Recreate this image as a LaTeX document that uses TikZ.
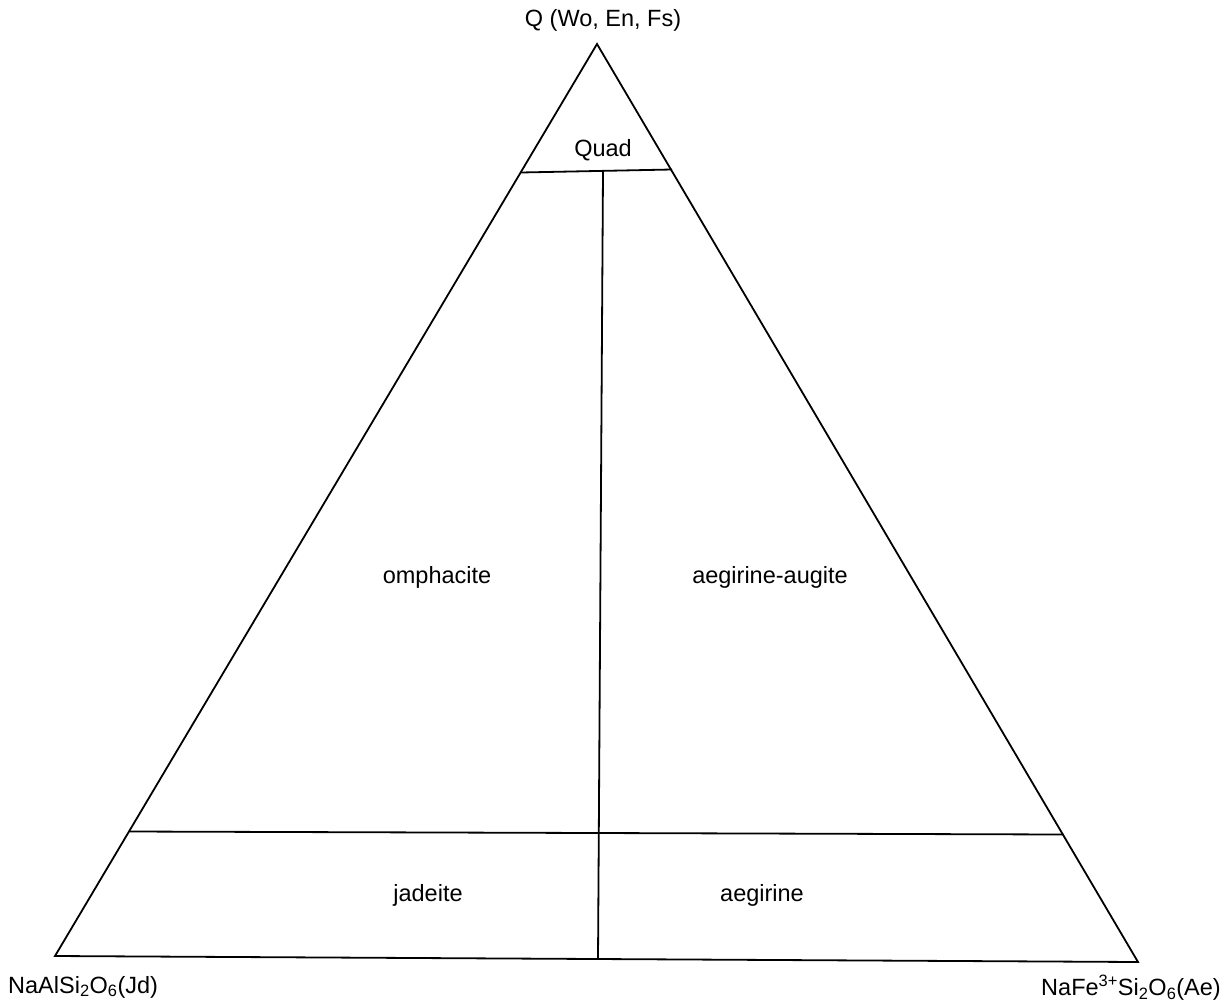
\documentclass[tikz,border=0pt]{standalone}
\usepackage{fontspec}
\setmainfont{Liberation Sans}
\begin{document}
\begin{tikzpicture}[x=1pt,y=-1pt,
    field/.style={font=\fontsize{23.5}{28}\selectfont, inner sep=0pt},
    edge/.style={line width=1.8pt, line join=miter}]
    \useasboundingbox (0,0) rectangle (1228,1001);
    % corners of the diagram
    \coordinate (q) at (597,44);
    \coordinate (jd) at (55,956);
    \coordinate (ae) at (1138,962);
    % ends of the dividing lines
    \coordinate (quadL) at (521,172.5);
    \coordinate (quadR) at (672,169.5);
    \coordinate (lowL) at (129.5,831.5);
    \coordinate (lowR) at (1063.5,834.5);
    \coordinate (midT) at (603,171.5);
    \coordinate (midB) at (598,959.5);
    \draw[edge] (jd) -- (q) -- (ae) -- cycle;
    \draw[edge] (quadL) -- (quadR);
    \draw[edge] (lowL) -- (lowR);
    \draw[edge] (midT) -- (midB);
    % labels
    \node[field] (qlab) at (603,20) {Q (Wo, En, Fs)};
    \node[field] (quad) at (603,150) {Quad};
    \node[field] (omph) at (437,577) {omphacite};
    \node[field] (aeau) at (770,577) {aegirine-augite};
    \node[field] (jade) at (428,895) {jadeite};
    \node[field] (aegi) at (762,895) {aegirine};
    \node[field,anchor=west] (jdlab) at (8,987) {NaAlSi\textsubscript{2}O\textsubscript{6}(Jd)};
    \node[field,anchor=east] (aelab) at (1221,988) {NaFe\textsuperscript{3+}Si\textsubscript{2}O\textsubscript{6}(Ae)};
\end{tikzpicture}
\end{document}
